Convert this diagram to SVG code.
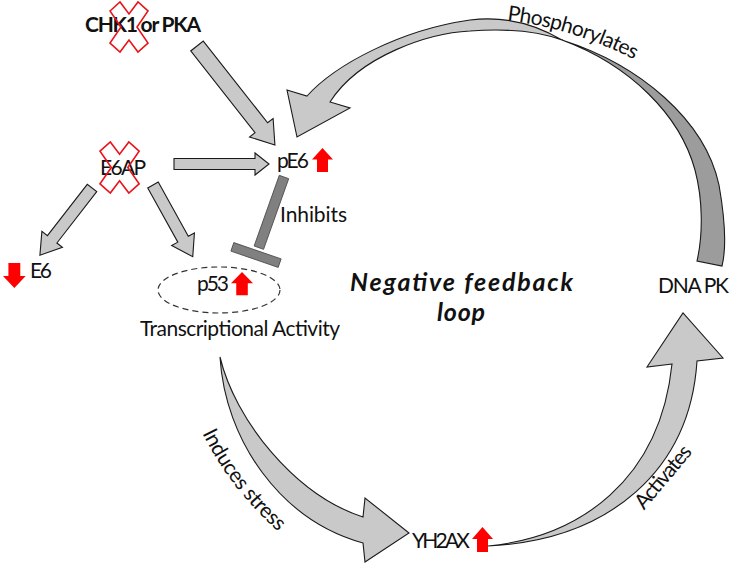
<svg xmlns="http://www.w3.org/2000/svg" width="733" height="569" viewBox="0 0 733 569">
<style>
.t{font-family:Lato,"Liberation Sans",sans-serif;font-size:21px;fill:#111}
.b{font-weight:bold}
.bi{font-weight:bold;font-style:italic;font-size:25px}
.blk{fill:#c9c9c9;stroke:#1a1a1a;stroke-width:1.1;stroke-linejoin:miter}
.dark{fill:#9c9c9c;stroke:#1a1a1a;stroke-width:1.1}
.inh{fill:#808080;stroke:#4a4a4a;stroke-width:0.8}
.red{fill:#ff0000}
.x{fill:none;stroke:#e8141a;stroke-width:1.6}
</style>
<defs>
<path id="up" d="M10.5,0 L21,12 L16,12 L16,25 L5,25 L5,12 L0,12 Z"/>
<path id="xs" d="M0,9 L10,0 L19,12 L28,0 L38,9 L27,25 L38,41 L28,50 L19,38 L10,50 L0,41 L11,25 Z"/>
</defs>
<rect width="733" height="569" fill="#fff"/>

<g id="connectors">
  <polygon class="blk" transform="translate(197,46) rotate(51.8)" points="0,-8 104,-8 104,-15 126,0 104,15 104,8 0,8"/>
  <polygon class="blk" transform="translate(174,164)" points="0,-5.5 81,-5.5 81,-11 95,0 81,11 81,5.5 0,5.5"/>
  <polygon class="blk" transform="translate(92,188) rotate(127.8)" points="0,-6 65,-6 65,-13 85,0 65,13 65,6 0,6"/>
  <polygon class="blk" transform="translate(153,185) rotate(61)" points="0,-6 62,-6 62,-13 82,0 62,13 62,6 0,6"/>
  <g id="inhibit">
    <rect class="inh" transform="translate(284,177) rotate(109.6)" x="0" y="-5" width="75" height="10"/>
    <rect class="inh" transform="translate(256,255) rotate(19)" x="-25" y="-4.5" width="50" height="9"/>
  </g>
  <path class="blk" d="M307,96 C335,65 400,30 470,20 C510,15 540,27 562,40 C540,32 510,28 470,31 C430,33 360,55 330,102 L350,108 L297,137 L287,90 Z"/>
  <path class="dark" d="M562,40 C640,65 705,120 719,185 C726,225 726,250 722,266 L697,261 C703,235 703,200 695,170 C680,115 630,65 562,40 Z"/>
  <path class="blk" d="M220,357 C235,420 295,495 363,517 L365,498 L409,533 L365,562 L363,543 C280,520 225,440 220,357 Z"/>
  <path class="blk" d="M672,364 L647,367 L683,313 L723,358 L697,361 C690,470 610,540 488,546 C580,537 660,480 672,364 Z"/>
  <path id="phosPath" d="M503,20 Q573,27 643,64" fill="none"/>
  <path id="indPath" d="M199,426 C217,466 247,506 289,541" fill="none"/>
  <text class="t"><textPath href="#phosPath" startOffset="4" textLength="134">Phosphorylates</textPath></text>
  <text class="t"><textPath href="#indPath" startOffset="8" textLength="125">Induces stress</textPath></text>
  <text class="t" transform="translate(663,477) rotate(-50)" x="0" y="7" text-anchor="middle" textLength="76">Activates</text>
  <text class="t" x="280" y="222" textLength="67">Inhibits</text>
</g>

<g id="chk1">
  <text class="t b" x="85" y="32" textLength="116">CHK1 or PKA</text>
  <use href="#xs" class="x" transform="translate(110,2)"/>
</g>
<g id="e6ap">
  <text class="t" x="100" y="175" textLength="46">E6AP</text>
  <use href="#xs" class="x" transform="translate(100,142) scale(1.03,1.02)"/>
</g>
<g id="pe6">
  <text class="t" x="277" y="168" textLength="32">pE6</text>
  <use href="#up" class="red" transform="translate(312,148) scale(1,0.96)"/>
</g>
<g id="e6">
  <use href="#up" class="red" transform="translate(3,288) scale(1.08,-1)"/>
  <text class="t" x="30" y="278" textLength="22">E6</text>
</g>
<g id="p53">
  <ellipse cx="219" cy="290" rx="61" ry="23" fill="none" stroke="#333" stroke-width="1.2" stroke-dasharray="6,4"/>
  <text class="t" x="197" y="291" textLength="32">p53</text>
  <use href="#up" class="red" transform="translate(231,272) scale(1.05,0.93)"/>
  <text class="t" x="140" y="336" textLength="200">Transcriptional Activity</text>
</g>
<g id="loop">
  <text class="t bi" x="350" y="291" textLength="223">Negative feedback</text>
  <text class="t bi" x="437" y="321" textLength="48">loop</text>
</g>
<g id="dnapk">
  <text class="t" x="658" y="293" textLength="71">DNA PK</text>
</g>
<g id="yh2ax">
  <text class="t" x="412" y="548" textLength="58">YH2AX</text>
  <use href="#up" class="red" transform="translate(472,527)"/>
</g>
</svg>
